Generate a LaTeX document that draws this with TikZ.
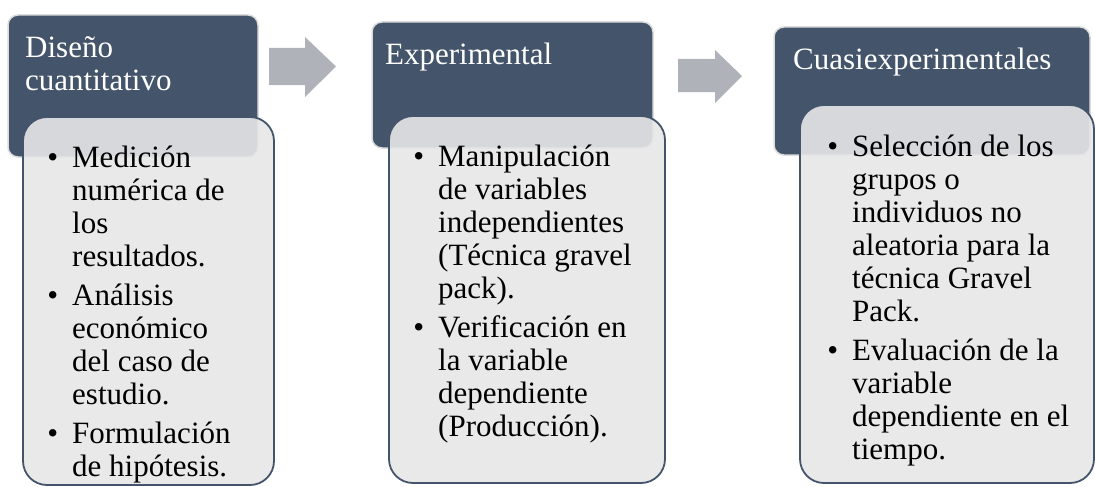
\documentclass[tikz,border=0pt]{standalone}
\usepackage{fontspec}
\setmainfont{Liberation Serif}
\definecolor{hdr}{HTML}{44546A}
\definecolor{bodyfill}{HTML}{E7E7E8}
\definecolor{arrowc}{HTML}{AFB2B9}
\definecolor{halo}{HTML}{DCDCDC}
\newcommand\bul{\llap{\textbullet\hspace{14pt}}}
\tikzset{
  hdrbox/.style={rectangle, fill=hdr, draw=halo, line width=1.5pt, rounded corners=10pt, inner sep=0pt},
  bodybox/.style={rectangle, fill=bodyfill, fill opacity=0.9, draw=hdr, draw opacity=1, line width=1.8pt, rounded corners=24pt, inner sep=0pt},
  blockarrow/.style={fill=arrowc},
  hdrtxt/.style={anchor=base west, inner sep=0pt, text=white, font=\fontsize{31}{33}\selectfont},
  bodytxt/.style={anchor=base west, inner sep=0pt, text=black, font=\fontsize{31}{33}\selectfont},
}
\begin{document}
\begin{tikzpicture}[x=1pt, y=-1pt]
\useasboundingbox (0,0) rectangle (1095,487);
% headers
\node[hdrbox, minimum width=250pt, minimum height=142pt] (h1) at (133,86) {};
\node[hdrbox, minimum width=281pt, minimum height=126pt] (h2) at (512.5,85) {};
\node[hdrbox, minimum width=316pt, minimum height=128pt] (h3) at (932,91) {};
% header texts
\node[hdrtxt] (t1) at (25,58) {\begin{tabular}[t]{@{}l@{}}Diseño\\cuantitativo\end{tabular}};
\node[hdrtxt] (t2) at (385,65) {Experimental};
\node[hdrtxt] (t3) at (793,70) {Cuasiexperimentales};
% arrows
\fill[blockarrow] (269,48) -- (305,48) -- (305,37) -- (336,66.5) -- (305,97) -- (305,85) -- (269,85) -- cycle;
\fill[blockarrow] (678,59) -- (715,59) -- (715,50) -- (742,76) -- (715,103) -- (715,92) -- (678,92) -- cycle;
% bodies
\node[bodybox, minimum width=251pt, minimum height=368pt] (b1) at (148.5,301) {};
\node[bodybox, minimum width=276pt, minimum height=367pt] (b2) at (527,299.5) {};
\node[bodybox, minimum width=294pt, minimum height=378pt] (b3) at (947,294) {};
% body texts
\node[bodytxt] (l1) at (72,167) {\begin{tabular}[t]{@{}l@{}}
\bul Medición\\numérica de\\los\\resultados.\\[6pt]
\bul Análisis\\económico\\del caso de\\estudio.\\[6pt]
\bul Formulación\\de hipótesis.\end{tabular}};
\node[bodytxt] (l2) at (438,166) {\begin{tabular}[t]{@{}l@{}}
\bul Manipulación\\de variables\\independientes\\(Técnica gravel\\pack).\\[6pt]
\bul Verificación en\\la variable\\dependiente\\(Producción).\end{tabular}};
\node[bodytxt] (l3) at (852,156) {\begin{tabular}[t]{@{}l@{}}
\bul Selección de los\\grupos o\\individuos no\\aleatoria para la\\técnica Gravel\\Pack.\\[6pt]
\bul Evaluación de la\\variable\\dependiente en el\\tiempo.\end{tabular}};
\end{tikzpicture}
\end{document}
